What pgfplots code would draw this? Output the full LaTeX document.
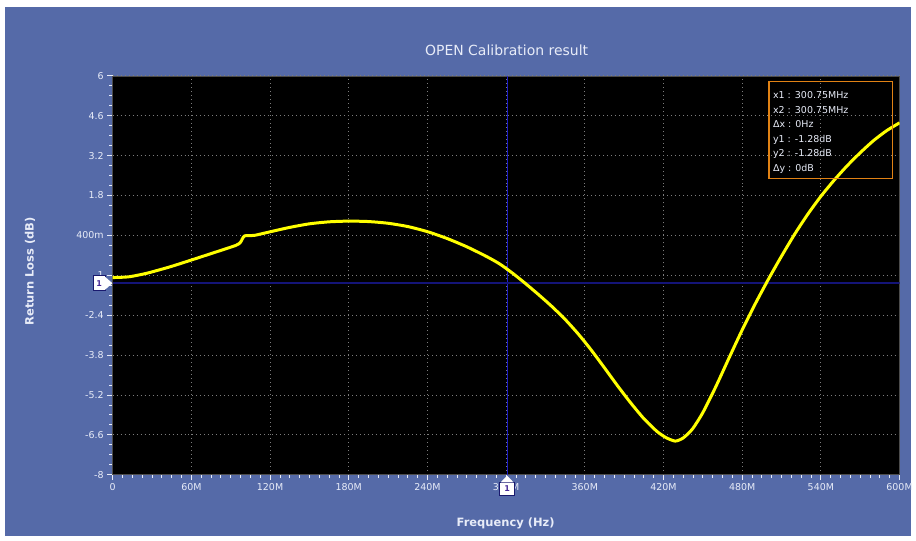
\documentclass[border=0pt]{standalone}
\usepackage{fontspec}
\setmainfont{DejaVu Sans}
\usepackage{pgfplots}
\pgfplotsset{compat=1.18}

\definecolor{panel}{RGB}{85,106,168}
\definecolor{txt}{RGB}{232,236,248}
\definecolor{gridc}{RGB}{125,125,125}
\definecolor{trace}{RGB}{255,255,0}
\definecolor{vmark}{RGB}{30,30,200}
\definecolor{hmark}{RGB}{20,20,120}
\definecolor{boxc}{RGB}{225,130,20}
\definecolor{mnum}{RGB}{70,40,150}
\definecolor{mborder}{RGB}{25,25,110}

\begin{document}
\begin{tikzpicture}[x=1pt,y=1pt]
\fill[white] (0,0) rectangle (916,542);
\fill[panel] (5,5) rectangle (913,535);

\begin{axis}[
    at={(113pt,66pt)}, anchor=south west,
    scale only axis, width=789pt, height=400pt,
    xmin=0, xmax=600, ymin=-8, ymax=6,
    axis background/.style={fill=black},
    xtick={0,60,...,600},
    xticklabels={0,60M,120M,180M,240M,300M,360M,420M,480M,540M,600M},
    ytick={-8,-6.6,-5.2,-3.8,-2.4,-1,0.4,1.8,3.2,4.6,6},
    yticklabels={-8,-6.6,-5.2,-3.8,-2.4,-1,400m,1.8,3.2,4.6,6},
    minor x tick num=7, minor y tick num=3,
    tick pos=left, tick align=outside,
    major tick length=5.5pt, minor tick length=3.5pt,
    tick style={txt, line width=0.8pt},
    every tick label/.append style={font=\fontsize{9.5}{10}\selectfont, text=txt},
    grid=major,
    major grid style={gridc, dash pattern=on 1pt off 3pt, line width=0.8pt},
    axis line style={draw=gray!60!black, line width=0.6pt},
    clip mode=individual,
  ]
  % marker lines
  \addplot[vmark, line width=1pt] coordinates {(300.75,-8) (300.75,6)};
  \addplot[hmark, line width=1.6pt] coordinates {(0,-1.28) (600,-1.28)};

  % return loss trace
  \addplot[trace, line width=3pt, smooth, tension=0.4] coordinates {
    (0,-1.08) (5,-1.075) (13,-1.05) (26,-0.93) (44,-0.70) (61,-0.45)
    (79,-0.18) (94,0.05) (97.5,0.16) (100.5,0.38) (108,0.40)
    (120,0.525) (135,0.68) (150,0.805) (165,0.875) (180,0.90) (195,0.885)
    (210,0.825) (225,0.71) (240,0.53) (255,0.29) (270,0.0) (285,-0.34)
    (295,-0.60) (305,-0.93) (315,-1.30) (325,-1.69) (335,-2.10) (345,-2.55)
    (355,-3.06) (365,-3.63) (375,-4.25) (385,-4.88) (395,-5.48) (405,-6.03)
    (415,-6.48) (422,-6.70) (429,-6.82) (435,-6.71) (442,-6.40) (450,-5.82)
    (460,-4.90) (470,-3.90) (480,-2.92) (490,-2.00) (500,-1.14) (510,-0.33)
    (520,0.44) (530,1.14) (540,1.77) (550,2.33) (560,2.84) (570,3.30)
    (580,3.72) (590,4.07) (600,4.35)
  };

  \coordinate (mh) at (axis cs:0,-1.28);
  \coordinate (mv) at (axis cs:300.75,-8);
\end{axis}

% marker flags
\filldraw[fill=white, draw=mborder, line width=0.8pt]
  ([shift={(-19.7,-7.5)}]mh) rectangle ([shift={(-7.3,7.5)}]mh);
\fill[white] ([shift={(-7.7,-6.5)}]mh) -- ([shift={(-0.3,0)}]mh) -- ([shift={(-7.7,6.5)}]mh) -- cycle;
\node[text=mnum, font=\bfseries\fontsize{8}{9}\selectfont, inner sep=0pt] at ([shift={(-13.5,0)}]mh) {1};

\filldraw[fill=white, draw=mborder, line width=0.8pt]
  ([shift={(-7.3,-20.7)}]mv) rectangle ([shift={(7.3,-7.3)}]mv);
\fill[white] ([shift={(-6.5,-7.7)}]mv) -- ([shift={(0,-1)}]mv) -- ([shift={(6.5,-7.7)}]mv) -- cycle;
\node[text=mnum, font=\bfseries\fontsize{8}{9}\selectfont, inner sep=0pt] at ([shift={(0,-14)}]mv) {1};

% marker readout
\draw[boxc, line width=1.3pt] (771,363) rectangle (895,460);
\node[anchor=north west, inner sep=0pt, align=left, text=txt,
      font=\fontsize{9.5}{14.6}\selectfont] at (775,450.5)
  {x1 : 300.75MHz\\x2 : 300.75MHz\\Δx : 0Hz\\y1 : -1.28dB\\y2 : -1.28dB\\Δy : 0dB};

% titles
\node[text=txt, font=\fontsize{14}{16}\selectfont] at (508,492) {OPEN Calibration result};
\node[text=txt, font=\bfseries\fontsize{11.5}{13}\selectfont, rotate=90] at (30,270) {Return Loss (dB)};
\node[text=txt, font=\bfseries\fontsize{11.5}{13}\selectfont] at (507,17) {Frequency (Hz)};
\end{tikzpicture}
\end{document}
